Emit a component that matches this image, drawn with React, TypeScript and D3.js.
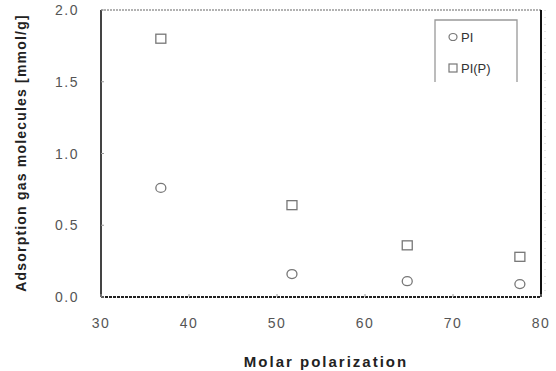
import React from "react";
import * as d3 from "d3";

const polarization = [36.8, 51.7, 64.8, 77.6];
const piValues = [0.76, 0.16, 0.11, 0.09];
const pipValues = [1.8, 0.64, 0.36, 0.28];
const xTicks = [30, 40, 50, 60, 70, 80];
const yTicks = [0, 0.5, 1.0, 1.5, 2.0];

const W = 556;
const H = 371;
const left = 101;
const right = 541;
const top = 10;
const bottom = 297;

export default function App() {
  const x = d3.scaleLinear().domain([30, 80]).range([left, right]);
  const y = d3.scaleLinear().domain([0, 2]).range([bottom, top]);
  const tickFont = "'Liberation Sans', Arial, sans-serif";
  const tickColor = "#555";
  const markerColor = "#777";

  return (
    <svg width={W} height={H} style={{ position: "absolute", left: 0, top: 0, background: "#fff" }}>
      <rect x={0} y={0} width={W} height={H} fill="#fff" />
      {/* frame */}
      <line x1={left} y1={top} x2={right} y2={top} stroke="#999" strokeWidth={1.5} strokeDasharray="2 1" />
      <line x1={right} y1={top} x2={right} y2={bottom} stroke="#111" strokeWidth={2} />
      <line x1={right + 4} y1={top} x2={right + 4} y2={bottom} stroke="#ccc" strokeWidth={1} strokeDasharray="1 6" />
      <line x1={left} y1={top} x2={left} y2={bottom} stroke="#444" strokeWidth={2} />
      <line x1={left} y1={bottom} x2={right} y2={bottom} stroke="#222" strokeWidth={2} strokeDasharray="3 1" />

      {/* y ticks */}
      {yTicks.map((t) => (
        <g key={"y" + t}>
          <line x1={left} x2={left + 3} y1={y(t)} y2={y(t)} stroke="#999" strokeWidth={1} />
          <text
            x={79}
            y={y(t)}
            dy="0.36em"
            textAnchor="end"
            fontFamily={tickFont}
            fontSize={14}
            letterSpacing={1.5}
            fill={tickColor}
          >
            {t.toFixed(1)}
          </text>
        </g>
      ))}

      {/* x ticks */}
      {xTicks.map((t) => (
        <g key={"x" + t}>
          <line x1={x(t)} x2={x(t)} y1={bottom} y2={bottom - 3} stroke="#999" strokeWidth={1} />
          <text
            x={x(t)}
            y={323}
            dy="0.36em"
            textAnchor="middle"
            fontFamily={tickFont}
            fontSize={14}
            letterSpacing={1.5}
            fill={tickColor}
          >
            {t}
          </text>
        </g>
      ))}

      {/* axis titles */}
      <text
        x={326}
        y={362}
        dy="0.36em"
        textAnchor="middle"
        fontFamily={tickFont}
        fontWeight="bold"
        fontSize={15}
        letterSpacing={2}
        fill="#222"
      >
        Molar polarization
      </text>
      <text
        transform={`translate(21, 153) rotate(-90)`}
        dy="0.36em"
        textAnchor="middle"
        fontFamily={tickFont}
        fontWeight="bold"
        fontSize={14}
        letterSpacing={1.2}
        fill="#222"
      >
        Adsorption gas molecules [mmol/g]
      </text>

      {/* PI series */}
      {polarization.map((p, i) => (
        <ellipse
          key={"c" + i}
          cx={x(p)}
          cy={y(piValues[i])}
          rx={5}
          ry={4.5}
          fill="none"
          stroke={markerColor}
          strokeWidth={1.3}
        />
      ))}
      {/* PI(P) series */}
      {polarization.map((p, i) => (
        <rect
          key={"s" + i}
          x={x(p) - 5}
          y={y(pipValues[i]) - 4.5}
          width={10}
          height={9}
          fill="none"
          stroke={markerColor}
          strokeWidth={1.3}
        />
      ))}

      {/* legend */}
      <polyline points="435,82 435,20 517,20 517,82" fill="none" stroke="#999" strokeWidth={1.3} />
      <ellipse cx={453} cy={37} rx={4} ry={3.5} fill="none" stroke={markerColor} strokeWidth={1.2} />
      <text x={461} y={37} dy="0.36em" fontFamily={tickFont} fontSize={13} fill="#333">PI</text>
      <rect x={449} y={64} width={8} height={8} fill="none" stroke={markerColor} strokeWidth={1.2} />
      <text x={461} y={68} dy="0.36em" fontFamily={tickFont} fontSize={13} fill="#333">PI(P)</text>
    </svg>
  );
}
